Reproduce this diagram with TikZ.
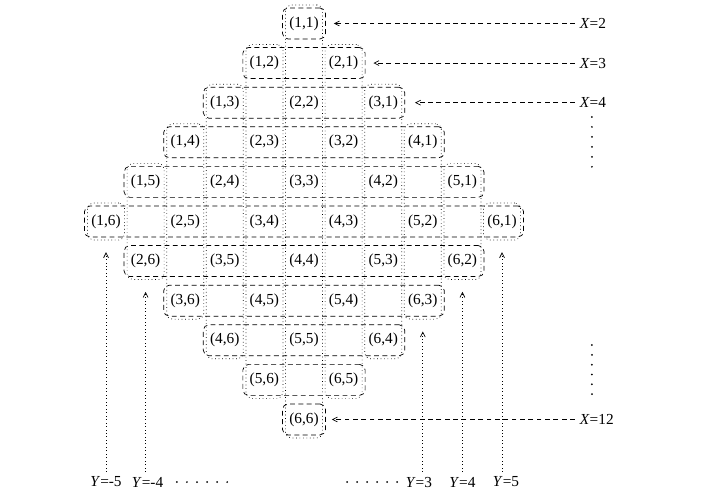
\documentclass[tikz,border=0pt]{standalone}
\usepackage{fontspec}
\setmainfont{Liberation Serif}
\usepackage{tikz}
\usetikzlibrary{arrows.meta}

\tikzset{
    rowbox/.style={draw,dash pattern=on 3.5pt off 2.5pt,rounded corners=4pt,inner sep=0pt,minimum height=0.783cm},
    colbox/.style={draw,dotted,rounded corners=4pt,inner sep=0pt,minimum width=0.934cm},
    lab/.style={font=\fontsize{11}{13}\selectfont},
    tip/.style={-{Straight Barb[length=3.5pt,width=3.5pt]}}
}

\begin{document}
\begin{tikzpicture}[line width=0.5pt]
        \useasboundingbox (-7.677,0.593) rectangle (10.05,-12.08);
        % rows, X = i+j
        \node[rowbox,minimum width=1.087cm] (r2) at (0,0) {};
        \node[rowbox,minimum width=3.087cm] (r3) at (0,-1) {};
        \node[rowbox,minimum width=5.087cm] (r4) at (0,-2) {};
        \node[rowbox,minimum width=7.087cm] (r5) at (0,-3) {};
        \node[rowbox,minimum width=9.087cm] (r6) at (0,-4) {};
        \node[rowbox,minimum width=11.087cm] (r7) at (0,-5) {};
        \node[rowbox,minimum width=9.087cm] (r8) at (0,-6) {};
        \node[rowbox,minimum width=7.087cm] (r9) at (0,-7) {};
        \node[rowbox,minimum width=5.087cm] (r10) at (0,-8) {};
        \node[rowbox,minimum width=3.087cm] (r11) at (0,-9) {};
        \node[rowbox,minimum width=1.087cm] (r12) at (0,-10) {};
        % columns, Y = i-j
        \node[colbox,minimum height=0.934cm] (ym5) at (-5,-5) {};
        \node[colbox,minimum height=2.934cm] (ym4) at (-4,-5) {};
        \node[colbox,minimum height=4.934cm] (ym3) at (-3,-5) {};
        \node[colbox,minimum height=6.934cm] (ym2) at (-2,-5) {};
        \node[colbox,minimum height=8.934cm] (ym1) at (-1,-5) {};
        \node[colbox,minimum height=10.934cm] (y0) at (0,-5) {};
        \node[colbox,minimum height=8.934cm] (y1) at (1,-5) {};
        \node[colbox,minimum height=6.934cm] (y2) at (2,-5) {};
        \node[colbox,minimum height=4.934cm] (y3) at (3,-5) {};
        \node[colbox,minimum height=2.934cm] (y4) at (4,-5) {};
        \node[colbox,minimum height=0.934cm] (y5) at (5,-5) {};
        % cells
        \foreach \i in {1,...,6}
            \foreach \j in {1,...,6}
                \node[lab] (c\i\j) at ({\i-\j},{2-\i-\j}) {(\i,\j)};
        % X labels
        \node[lab,anchor=west] (lx2) at (6.84,0) {\textit{X}=2};
        \node[lab,anchor=west] (lx3) at (6.84,-1) {\textit{X}=3};
        \node[lab,anchor=west] (lx4) at (6.84,-2) {\textit{X}=4};
        \node[lab,anchor=west] (lx12) at (6.84,-10) {\textit{X}=12};
        \draw[tip,dash pattern=on 3.5pt off 2.5pt,shorten >=0.2cm] (lx2.west) -- (r2.east);
        \draw[tip,dash pattern=on 3.5pt off 2.5pt,shorten >=0.2cm] (lx3.west) -- (r3.east);
        \draw[tip,dash pattern=on 3.5pt off 2.5pt,shorten >=0.25cm] (lx4.west) -- (r4.east);
        \draw[tip,dash pattern=on 3.5pt off 2.5pt,shorten >=0.15cm] (lx12.west) -- (r12.east);
        \foreach \k in {0,...,5} {
            \fill (7.27,-2.36-0.252*\k) circle (0.025);
            \fill (7.27,-8.12-0.248*\k) circle (0.025);
        }
        % Y labels
        \node[lab] (lym5) at (-5,-11.58) {\textit{Y}=-5};
        \node[lab] (lym4) at (-3.95,-11.58) {\textit{Y}=-4};
        \node[lab] (ly3) at (2.9,-11.58) {\textit{Y}=3};
        \node[lab] (ly4) at (4,-11.58) {\textit{Y}=4};
        \node[lab] (ly5) at (5.1,-11.58) {\textit{Y}=5};
        \draw[tip,dotted,shorten >=0.3cm] (lym5.north -| ym5.south) -- (ym5.south);
        \draw[tip,dotted,shorten >=0.3cm] (lym4.north -| ym4.south) -- (ym4.south);
        \draw[tip,dotted,shorten >=0.3cm] (ly3.north -| y3.south) -- (y3.south);
        \draw[tip,dotted,shorten >=0.3cm] (ly4.north -| y4.south) -- (y4.south);
        \draw[tip,dotted,shorten >=0.3cm] (ly5.north -| y5.south) -- (y5.south);
        \foreach \k in {0,...,5} {
            \fill (-3.21+0.254*\k,-11.58) circle (0.025);
            \fill (1.09+0.252*\k,-11.58) circle (0.025);
        }
    \end{tikzpicture}
\end{document}
